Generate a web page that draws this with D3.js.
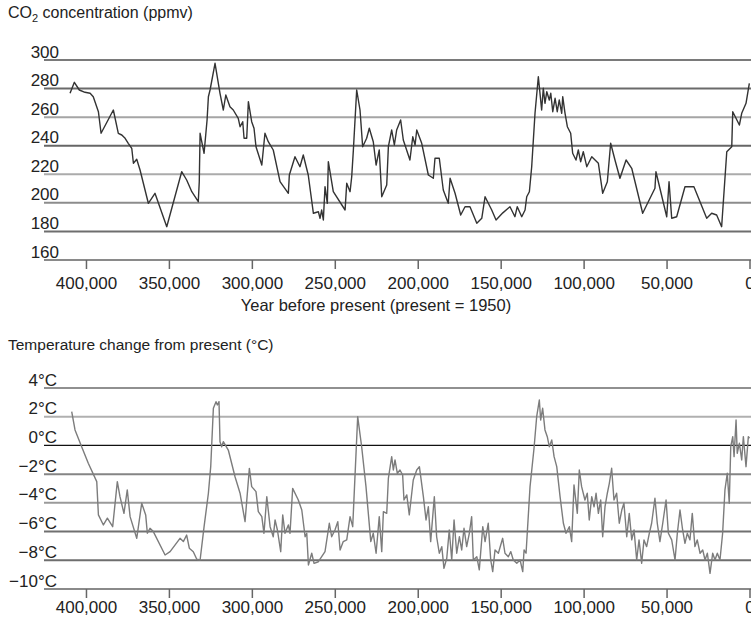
<!DOCTYPE html>
<html>
<head>
<meta charset="utf-8">
<script src="https://cdn.jsdelivr.net/npm/d3@7"></script>
<style>
  body { margin: 0; background: #fff; }
  svg { display: block; font-family: "Liberation Sans", Arial, sans-serif; }
  .tick text { fill: #222; }
</style>
</head>
<body>
<svg id="chart" width="751" height="617"></svg>
<script>
// Vostok ice core
const co2Age = [409600, 407000, 404000, 400600, 397500, 395600, 392500, 390900, 383500, 380500,
  378400, 376400, 374500, 372400, 371400, 369400, 367400, 362400, 358400, 351300,
  342300, 339300, 336200, 332300, 331700, 331200, 328800, 327000, 326200, 325200,
  322200, 319200, 317200, 315700, 313200, 311200, 308200, 307100, 305500, 304700,
  303100, 302100, 300100, 298700, 297500, 294000, 292100, 290100, 287100, 283000,
  278000, 277400, 274000, 271000, 269000, 266000, 262900, 259900, 258900, 257900,
  256900, 255900, 254500, 253900, 250900, 243800, 242800, 240800, 239800, 238800,
  236800, 234800, 233200, 230800, 229200, 226800, 225100, 223200, 221700, 218700,
  217700, 215700, 214100, 212700, 210300, 208700, 204700, 203000, 201600, 200600,
  197600, 193600, 190600, 189600, 187000, 184600, 181600, 180500, 177500, 174100,
  171500, 168500, 164400, 161400, 159400, 155400, 152800, 148700, 144400, 141400,
  140000, 137300, 135300, 134300, 132700, 131300, 129300, 127300, 125300, 124300,
  123300, 122200, 120700, 119800, 118600, 117200, 115900, 114700, 113200, 112600,
  111200, 109800, 107800, 106600, 104600, 103200, 101800, 100200, 98100, 95100,
  91100, 88500, 85700, 83700, 81100, 78100, 74400, 71000, 64400, 57000,
  56400, 49900, 48500, 46900, 43900, 38900, 33500, 25800, 22800, 19800,
  16800, 13700, 10700, 10100, 6100, 4700, 2100, 100];
const co2Ppmv = [276.7, 284.4, 279, 277.4, 276.7, 274.3, 263.8, 248.7, 265, 248.7,
  247.5, 245.2, 241.7, 238.2, 227.7, 230.5, 223, 199.7, 206.7, 183.3,
  221.8, 216, 207.8, 200.8, 214.8, 248.7, 234.7, 258, 274.3, 279,
  297.7, 276.7, 265, 275.5, 267.3, 265, 259.2, 253.3, 256.8, 245.2,
  245.2, 270.8, 256.8, 252.2, 239.3, 226.5, 248.7, 242.8, 237, 214.8,
  206.7, 219.5, 232.3, 225.3, 233.5, 219.5, 192.7, 193.8, 189.2, 195,
  188, 211.3, 199.7, 228.8, 207.8, 195, 213.7, 207.8, 218.3, 237,
  279, 265, 239.3, 245.2, 252.2, 242.8, 226.5, 237, 204.3, 212.5,
  239.3, 251, 240.5, 251, 258, 244, 230, 246.3, 240.5, 251,
  241.7, 219.5, 217.2, 231.2, 231.2, 209, 199.7, 217.2, 206.7, 191.5,
  197.3, 197.3, 185.7, 189.2, 204.3, 195, 188, 193, 197.3, 190.3,
  197.3, 190.3, 195, 204.3, 207.8, 225.3, 262.7, 288.3, 265, 280.2,
  269.7, 277.8, 272, 276.7, 263.8, 273.2, 263.8, 272, 262.7, 274.3,
  262.7, 253.3, 248.7, 234.7, 230, 237, 228.8, 235.8, 225.3, 232.3,
  227.7, 206.7, 214.8, 241.7, 230, 217.2, 230, 224.2, 192.7, 210.2,
  221.8, 190.3, 214.8, 189.2, 190.3, 211.3, 211.3, 189.2, 192.7, 191.5,
  183.3, 235.8, 239.3, 263.8, 254.5, 262.7, 269.7, 283.7];

const tempAge = [408600, 406600, 402600, 398600, 393500, 392500, 389500, 387100, 383900, 381100,
  379500, 377100, 375100, 373400, 369400, 366400, 364000, 363000, 361400, 359400,
  352300, 349300, 343300, 341300, 339300, 337700, 335300, 333200, 331200, 328800,
  326200, 324800, 323200, 321600, 320800, 319800, 319200, 318200, 317200, 314200,
  310100, 307100, 304100, 301500, 300100, 297500, 296100, 294000, 292700, 291000,
  289000, 287100, 286000, 284600, 282600, 281400, 280000, 278000, 277000, 275400,
  272000, 269900, 267900, 266900, 265900, 263900, 262500, 259900, 255900, 253300,
  251900, 249900, 248200, 246800, 244900, 242800, 240800, 239200, 236200, 233800,
  231200, 228300, 226800, 225100, 223200, 221700, 220700, 218700, 217700, 215700,
  214700, 213700, 212300, 210700, 209100, 208300, 206600, 205100, 202700, 200600,
  199000, 196600, 195000, 193600, 192200, 190000, 188600, 187000, 185500, 184200,
  182500, 181000, 179500, 178100, 176500, 174900, 173500, 172100, 170500, 168900,
  167500, 166500, 164400, 162900, 160800, 159400, 157500, 156000, 154800, 153400,
  151400, 148800, 147400, 145400, 143900, 142400, 140300, 138300, 136700, 135900,
  134700, 132300, 129900, 128300, 126700, 125900, 124700, 123300, 121900, 120700,
  119200, 117800, 116200, 114200, 112200, 110600, 108600, 107200, 105800, 103800,
  102600, 101200, 99200, 97800, 96600, 95100, 93700, 92500, 91100, 89700,
  88500, 87100, 85700, 84500, 83100, 81700, 80100, 78500, 77000, 75700,
  74000, 72500, 71000, 69600, 68000, 66600, 65000, 63600, 62000, 60400,
  59000, 57000, 55600, 54000, 52300, 50300, 48900, 46900, 44900, 43500,
  41900, 40300, 38900, 37500, 35900, 34500, 32900, 31500, 29800, 28200,
  26800, 25400, 23800, 22200, 20800, 19400, 17800, 16200, 14800, 13400,
  12200, 11300, 10100, 9300, 8100, 7400, 6100, 4700, 3700, 2100,
  700, 0];
const tempDelta = [2.35, 1.08, -0.09, -1.24, -2.52, -4.84, -5.54, -5.07, -5.66, -2.52,
  -3.57, -4.73, -3.1, -4.96, -6.47, -4.03, -4.84, -6.12, -5.77, -6.0,
  -7.63, -7.4, -6.47, -6.7, -6.24, -7.16, -7.4, -7.93, -7.98, -5.66,
  -3.33, -1.48, 2.59, 3.05, 2.82, 3.05, 0.26, -0.09, 0.26, -0.32,
  -2.2, -3.33, -5.31, -1.6, -2.87, -3.22, -4.61, -4.96, -6.12, -3.57,
  -5.66, -6.36, -5.19, -5.89, -7.4, -4.84, -6.12, -5.54, -6.12, -2.99,
  -3.8, -4.5, -6.36, -6.12, -8.33, -7.51, -8.21, -8.1, -7.4, -5.42,
  -6.36, -5.89, -5.31, -7.28, -6.7, -6.58, -4.96, -5.66, 2.0, -0.09,
  -2.87, -6.7, -6.12, -7.51, -4.96, -7.4, -4.61, -4.73, -2.29, -0.78,
  -1.71, -1.01, -1.94, -1.71, -2.06, -3.8, -3.45, -4.84, -2.41, -1.71,
  -1.48, -3.57, -5.19, -4.27, -6.7, -3.57, -6.36, -7.51, -7.05, -8.56,
  -7.86, -5.89, -7.98, -5.19, -7.51, -6.36, -7.28, -5.77, -7.05, -6.12,
  -4.96, -7.98, -7.75, -8.67, -5.66, -6.7, -5.42, -7.98, -8.79, -7.28,
  -7.51, -6.47, -7.51, -7.75, -7.4, -7.98, -8.21, -7.98, -8.79, -7.28,
  -7.51, -2.87, -0.2, 2.0, 3.16, 1.77, 2.59, 1.08, 0.61, -0.09,
  0.38, -0.78, -1.48, -3.57, -5.42, -6.12, -5.66, -6.7, -2.75, -4.73,
  -1.71, -2.87, -3.8, -3.33, -5.19, -3.57, -4.27, -3.33, -4.73, -3.8,
  -6.36, -4.27, -3.33, -2.64, -1.59, -3.8, -3.33, -5.42, -4.5, -4.03,
  -6.36, -4.73, -6.58, -5.89, -7.98, -6.58, -8.21, -6.58, -7.05, -6.12,
  -5.42, -3.68, -5.42, -6.7, -5.42, -3.8, -6.12, -6.58, -7.98, -6.12,
  -4.5, -5.89, -6.82, -6.12, -6.58, -4.73, -7.05, -6.58, -7.51, -7.28,
  -7.98, -7.51, -8.91, -7.51, -7.98, -7.51, -7.98, -6.12, -3.1, -1.94,
  -4.03, -0.09, 0.61, -0.78, 1.77, -0.55, 0.15, -1.01, 0.61, -1.48,
  0.61, 0.5];

const yearTicks = [400000, 350000, 300000, 250000, 200000, 150000, 100000, 50000, 0];
const co2Ticks = [160, 180, 200, 220, 240, 260, 280, 300];
const tempTicks = [-10, -8, -6, -4, -2, 0, 2, 4];

const co2Grid = { 160: '#8a8a8a', 180: '#6e6e6e', 200: '#8c8c8c', 220: '#ababab', 240: '#666', 260: '#a5a5a5', 280: '#6a6a6a', 300: '#7a7a7a' };
const tempGrid = { '-10': '#8a8a8a', '-8': '#6e6e6e', '-6': '#707070', '-4': '#9a9a9a', '-2': '#858585', 0: '#111', 2: '#b0b0b0', 4: '#222' };
const tempGridW = { 0: 1.2, 4: 1.2 };

const svg = d3.select('#chart');
const left = 44;
const right = 751;

const x = d3.scaleLinear()
  .domain([425000, 0])
  .range([44.5, 749.5]);

const fmtTemp = (d) => (d < 0 ? '\u2212' + Math.abs(d) : d) + '°C';

function panel(opts) {
  const y = d3.scaleLinear().domain(opts.domain).range(opts.range);
  const g = svg.append('g');

  // horizontal rules
  g.append('g')
    .selectAll('line')
    .data(opts.ticks)
    .enter()
    .append('line')
    .attr('x1', left)
    .attr('x2', right)
    .attr('y1', (d) => y(d))
    .attr('y2', (d) => y(d))
    .attr('stroke', (d) => opts.gridColor[d])
    .attr('stroke-width', (d) => (opts.gridWidth && opts.gridWidth[d]) || 2);

  // value labels sit just above each rule
  const leftAxis = d3.axisLeft(y)
    .tickValues(opts.ticks)
    .tickSize(0)
    .tickPadding(0)
    .tickFormat(opts.format);
  g.append('g')
    .attr('transform', `translate(${opts.labelX}, 0)`)
    .call(leftAxis)
    .call((a) => a.select('.domain').remove())
    .selectAll('text')
    .attr('dy', -3)
    .style('font-size', '17px');

  // year axis
  const bottomAxis = d3.axisBottom(x)
    .tickValues(yearTicks)
    .tickSize(9)
    .tickSizeOuter(0)
    .tickPadding(opts.pad)
    .tickFormat(d3.format(','));
  const ax = g.append('g')
    .attr('transform', `translate(0, ${y(opts.domain[0])})`)
    .call(bottomAxis);
  ax.select('.domain').remove();
  ax.selectAll('.tick line').attr('stroke', '#666').attr('stroke-width', 1.5);
  ax.selectAll('text').style('font-size', '17px');

  const line = d3.line()
    .x((d) => x(d[0]))
    .y((d) => y(d[1]));

  g.append('path')
    .datum(d3.zip(opts.age, opts.values))
    .attr('fill', 'none')
    .attr('stroke', opts.stroke)
    .attr('stroke-width', 1.4)
    .attr('stroke-linejoin', 'round')
    .attr('d', line);

  return g;
}

panel({
  domain: [160, 300], range: [260, 60], ticks: co2Ticks,
  gridColor: co2Grid, labelX: 59, format: (d) => d, pad: 8,
  age: co2Age, values: co2Ppmv, stroke: '#333'
});

panel({
  domain: [-10, 4], range: [589, 388], ticks: tempTicks,
  gridColor: tempGrid, gridWidth: tempGridW, labelX: 57, format: fmtTemp, pad: 3,
  age: tempAge, values: tempDelta, stroke: '#7c7c7c'
});

// titles
const t1 = svg.append('text')
  .attr('x', 8)
  .attr('y', 18)
  .style('font-size', '16px')
  .attr('fill', '#222');
t1.append('tspan').text('CO');
t1.append('tspan').attr('dy', 4).style('font-size', '11px').text('2');
t1.append('tspan').attr('dy', -4).text(' concentration (ppmv)');

svg.append('text')
  .attr('x', 376)
  .attr('y', 311)
  .attr('text-anchor', 'middle')
  .style('font-size', '16.5px')
  .attr('fill', '#222')
  .text('Year before present (present = 1950)');

svg.append('text')
  .attr('x', 8)
  .attr('y', 350)
  .style('font-size', '15.5px')
  .attr('fill', '#222')
  .text('Temperature change from present (°C)');
</script>
</body>
</html>
